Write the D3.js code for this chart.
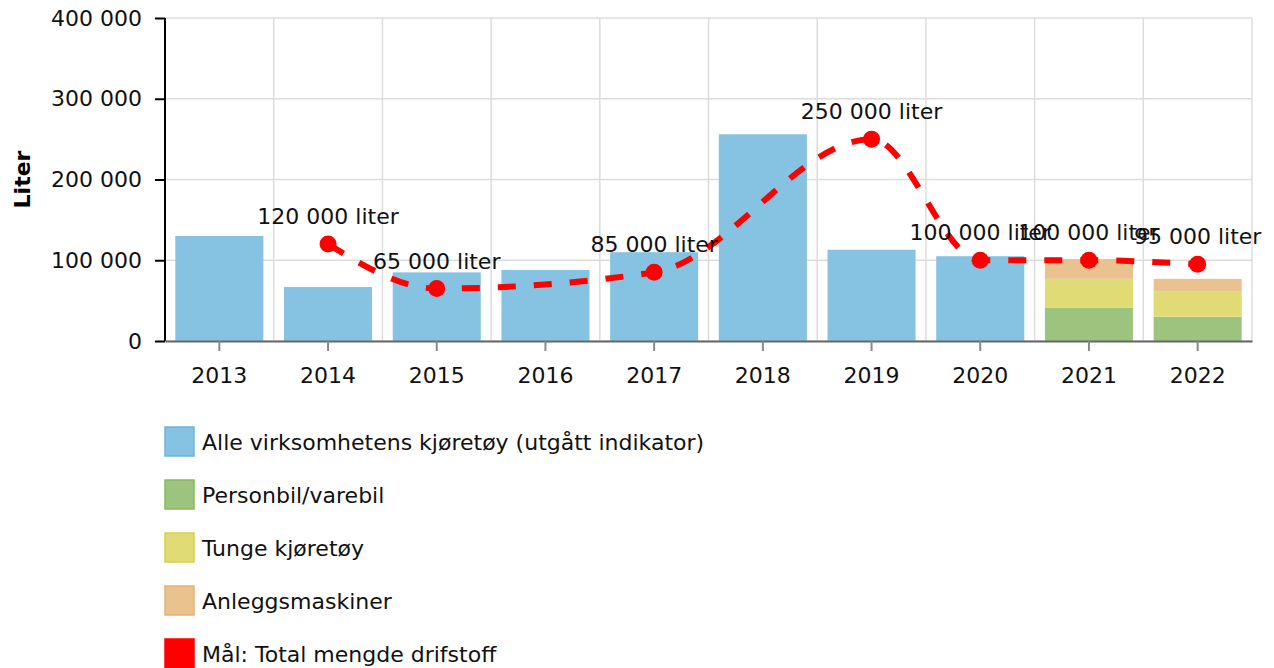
<!DOCTYPE html>
<html><head><meta charset="utf-8">
<script src="https://cdn.jsdelivr.net/npm/d3@7"></script>
<style>body{margin:0;background:#fff;font-family:"DejaVu Sans",Verdana,sans-serif;}</style>
</head><body><svg id="c" width="1274" height="668"></svg>
<script>
const years = ["2013","2014","2015","2016","2017","2018","2019","2020","2021","2022"];
const alleKjoretoy = [130000, 67000, 85000, 88000, 110000, 256000, 113000, 105000, null, null];
const personbil = [null, null, null, null, null, null, null, null, 41000, 30000];
const tunge = [null, null, null, null, null, null, null, null, 36000, 31000];
const anlegg = [null, null, null, null, null, null, null, null, 24500, 16000];
const maal = [null, 120000, 65000, null, 85000, null, 250000, 100000, 100000, 95000];
const yTicks = [0, 100000, 200000, 300000, 400000];
const legendNames = ["Alle virksomhetens kjøretøy (utgått indikator)", "Personbil/varebil", "Tunge kjøretøy", "Anleggsmaskiner", "Mål: Total mengde drifstoff"];
const colors = ["#86c2e1", "#9cc47f", "#e0db75", "#e9c28f", "#ff0000"];
const borders = ["#6db4dc", "#86ba5e", "#d6d04e", "#e6b272", "#ff0000"];

const svg = d3.select("#c");
const L = 165, R = 1252, T = 18, B = 341;
const fs = 22;
const fmt = v => d3.format(",")(v).replace(/,/g, " ");

const x = d3.scaleBand().domain(years).range([L, R]).paddingInner(0.19).paddingOuter(0.095);
const xb = d3.scaleBand().domain(years).range([L, R]);
const y = d3.scaleLinear().domain([0, 400000]).range([B, T]);

// grid
const g = svg.append("g");
g.selectAll("line.h").data(yTicks).join("line")
  .attr("x1", L).attr("x2", R).attr("y1", d => y(d)).attr("y2", d => y(d))
  .attr("stroke", "#dcdcdc").attr("stroke-width", 1.5);
g.selectAll("line.v").data(years.slice(1).concat(["end"])).join("line")
  .attr("x1", (d, i) => i < years.length - 1 ? xb(d) : R).attr("x2", (d, i) => i < years.length - 1 ? xb(d) : R)
  .attr("y1", T).attr("y2", B).attr("stroke", "#dcdcdc").attr("stroke-width", 1.5);

// bars
svg.append("g").selectAll("rect").data(years.map((yr, i) => ({yr, v: alleKjoretoy[i]})).filter(d => d.v != null)).join("rect")
  .attr("x", d => x(d.yr)).attr("width", x.bandwidth())
  .attr("y", d => y(d.v)).attr("height", d => B - y(d.v)).attr("fill", colors[0]);

const stackData = years.map((yr, i) => ({yr, p: personbil[i] || 0, t: tunge[i] || 0, a: anlegg[i] || 0}));
const stack = d3.stack().keys(["p", "t", "a"])(stackData);
stack.forEach((s, k) => {
  svg.append("g").selectAll("rect").data(s.filter(d => d[1] > d[0])).join("rect")
    .attr("x", d => x(d.data.yr)).attr("width", x.bandwidth())
    .attr("y", d => y(d[1])).attr("height", d => y(d[0]) - y(d[1])).attr("fill", colors[k + 1]);
});

// axes
const yAxis = svg.append("g").attr("transform", `translate(${L},0)`)
  .call(d3.axisLeft(y).tickValues(yTicks).tickFormat(fmt).tickSize(10).tickPadding(13));
yAxis.select(".domain").attr("stroke", "#000").attr("stroke-width", 2).attr("d", `M0,${T}V${B}`);
yAxis.selectAll(".tick line").attr("stroke", "#000").attr("stroke-width", 2);
yAxis.selectAll("text").attr("font-size", fs).attr("font-family", "DejaVu Sans").attr("fill", "#111");

const xAxis = svg.append("g").attr("transform", `translate(0,${B})`)
  .call(d3.axisBottom(x).tickSize(10).tickPadding(16).tickSizeOuter(0));
xAxis.select(".domain").attr("stroke", "#666").attr("stroke-width", 2);
xAxis.selectAll(".tick line").attr("stroke", "#888").attr("stroke-width", 2);
xAxis.selectAll("text").attr("font-size", fs).attr("font-family", "DejaVu Sans").attr("fill", "#111");

svg.append("text").attr("transform", `translate(30,${(T + B) / 2}) rotate(-90)`)
  .attr("text-anchor", "middle").attr("font-weight", "bold").attr("font-size", fs).text("Liter");

// target line
const pts = years.map((yr, i) => ({yr, v: maal[i]})).filter(d => d.v != null);
const cx = d => x(d.yr) + x.bandwidth() / 2;
svg.append("path").datum(pts)
  .attr("d", d3.line().x(cx).y(d => y(d.v)).curve(d3.curveMonotoneX))
  .attr("fill", "none").attr("stroke", colors[4]).attr("stroke-width", 6).attr("stroke-dasharray", "18,18");
svg.append("g").selectAll("circle").data(pts).join("circle")
  .attr("cx", cx).attr("cy", d => y(d.v)).attr("r", 8.5).attr("fill", colors[4]);
svg.append("g").selectAll("text").data(pts).join("text")
  .attr("x", cx).attr("y", d => y(d.v) - 20).attr("text-anchor", "middle")
  .attr("font-size", fs).attr("fill", "#111").text(d => fmt(d.v) + " liter");

// legend
const lg = svg.append("g");
legendNames.forEach((n, i) => {
  const cy = 442 + i * 53;
  lg.append("rect").attr("x", 165).attr("y", cy - 15).attr("width", 29).attr("height", 29)
    .attr("fill", colors[i]).attr("stroke", borders[i]).attr("stroke-width", 1.5);
  lg.append("text").attr("x", 202).attr("y", cy).attr("dy", "0.35em").attr("font-size", fs).attr("fill", "#111").text(n);
});
</script></body></html>
